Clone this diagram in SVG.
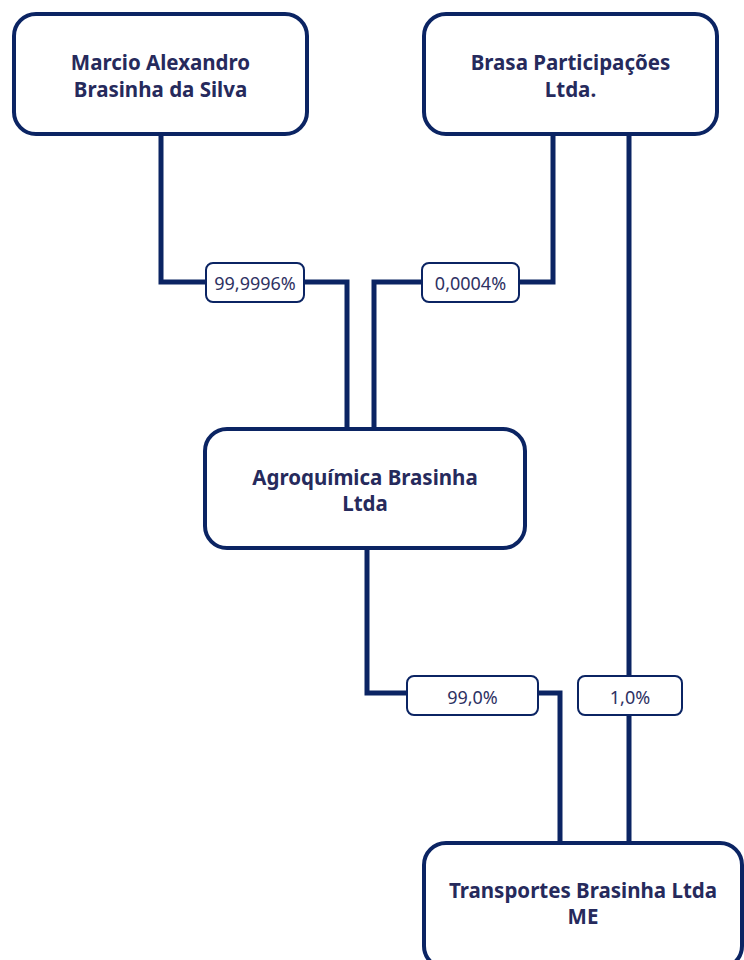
<svg xmlns="http://www.w3.org/2000/svg" width="744" height="960" viewBox="0 0 744 960">
<style>
.node rect{fill:#fff;stroke:#0b2463;stroke-width:4}
.node text{font-family:"Noto Sans","Open Sans","DejaVu Sans",sans-serif;font-weight:bold;font-size:20.5px;fill:#262a5c;text-anchor:middle}
.wire{fill:none;stroke:#0b2463;stroke-width:5;stroke-linejoin:miter}
.lbl rect{fill:#fff;stroke:#0b2463;stroke-width:2}
.lbl text{font-family:"Noto Sans","Open Sans","DejaVu Sans",sans-serif;font-size:18px;fill:#2e3163;text-anchor:middle}
</style>
<rect width="744" height="960" fill="#fff"/>
<g id="connectors">
<path class="wire" d="M161 134 V282 H347 V428"/>
<path class="wire" d="M553 134 V282 H374 V428"/>
<path class="wire" d="M367 548 V693 H560 V843"/>
<path class="wire" d="M629 134 V843"/>
<g class="lbl"><rect x="206" y="263" width="98" height="39" rx="7"/><text x="255" y="290">99,9996%</text></g>
<g class="lbl"><rect x="422" y="263" width="97" height="39" rx="7"/><text x="470.5" y="290">0,0004%</text></g>
<g class="lbl"><rect x="407" y="676" width="131" height="39" rx="7"/><text x="472.5" y="703.5">99,0%</text></g>
<g class="lbl"><rect x="578" y="676" width="104" height="39" rx="7"/><text x="630" y="703.5">1,0%</text></g>
</g>
<g id="n1" class="node"><rect x="14" y="14" width="293" height="120" rx="22"/><text x="160.5" y="70">Marcio Alexandro</text><text x="160.5" y="97">Brasinha da Silva</text></g>
<g id="n2" class="node"><rect x="424" y="14" width="293" height="120" rx="22"/><text x="570.5" y="70">Brasa Participações</text><text x="570.5" y="97">Ltda.</text></g>
<g id="n3" class="node"><rect x="205" y="429" width="320" height="119" rx="22"/><text x="365" y="485">Agroquímica Brasinha</text><text x="365" y="511">Ltda</text></g>
<g id="n4" class="node"><rect x="424" y="843" width="318" height="125" rx="22"/><text x="583" y="898">Transportes Brasinha Ltda</text><text x="583" y="924">ME</text></g>
</svg>
